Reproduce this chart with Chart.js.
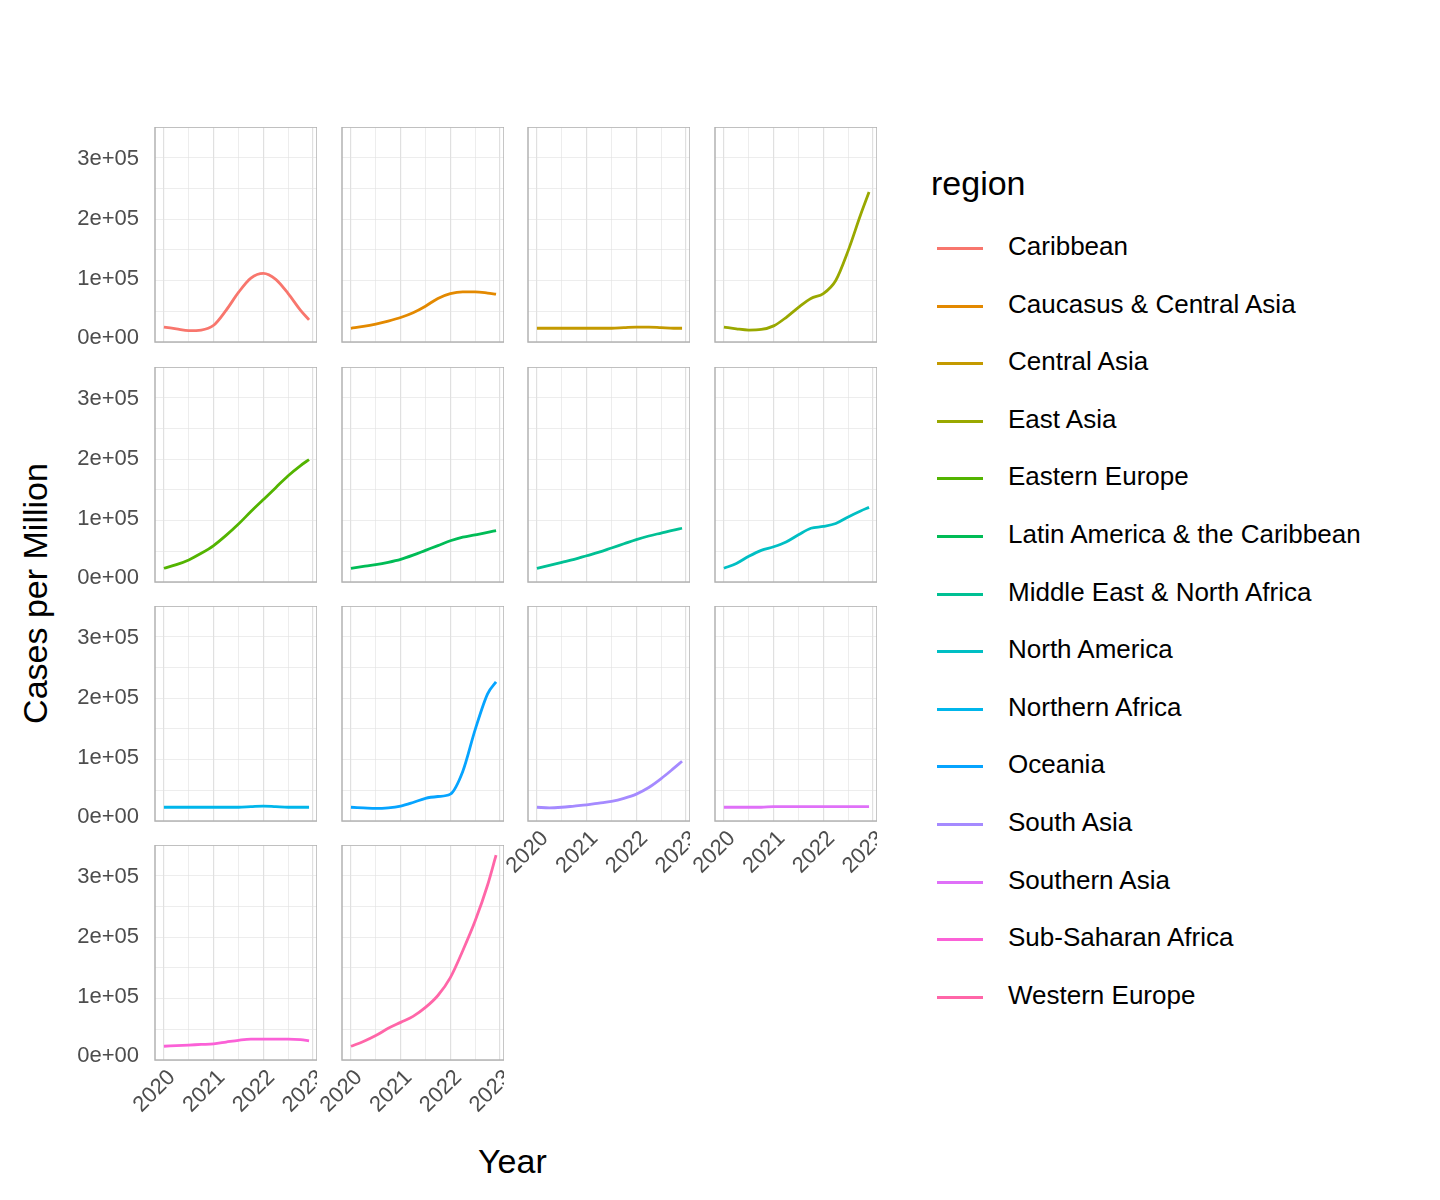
<!DOCTYPE html>
<html>
<head>
<meta charset="utf-8">
<script src="https://cdn.jsdelivr.net/npm/chart.js@4.4.1/dist/chart.umd.min.js"></script>
<style>
  body { margin: 0; background: #fff; font-family: Arial, "Liberation Sans", sans-serif; }
  #wrap { position: relative; width: 1440px; height: 1200px; }
  canvas { position: absolute; }
  .txt { position: absolute; color: #000; white-space: nowrap; }
  .leg { position: absolute; font-size: 26px; color: #000; white-space: nowrap; }
  .leg span { position: absolute; left: 6px; top: 16px; width: 46px; height: 3px; }
  .leg b { font-weight: normal; position: absolute; left: 77px; top: 0; white-space: nowrap; }
</style>
</head>
<body>
<div id="wrap">
  <div class="txt" style="left:478px;top:1142px;font-size:34px;">Year</div>
  <div class="txt" style="left:-100px;top:574px;width:270px;text-align:center;font-size:34px;transform:rotate(-90deg);">Cases per Million</div>
  <div class="txt" style="left:931px;top:164px;font-size:34px;">region</div>
</div>
<script>
// x positions (years) of the estimated points
const years = [2020, 2020.25, 2020.5, 2020.75, 2021, 2021.25, 2021.5, 2021.75, 2022, 2022.25, 2022.5, 2022.75, 2022.92];

const regions = ["Caribbean", "Caucasus & Central Asia", "Central Asia", "East Asia", "Eastern Europe",
  "Latin America & the Caribbean", "Middle East & North Africa", "North America", "Northern Africa",
  "Oceania", "South Asia", "Southern Asia", "Sub-Saharan Africa", "Western Europe"];

const colors = ["#F8766D", "#E38900", "#C49A00", "#99A800", "#53B400", "#00BC56", "#00C094",
  "#00BFC4", "#00B6EB", "#06A4FF", "#A58AFF", "#DF70F8", "#FB61D7", "#FF66A8"];

// cases per million, in thousands
const caribbean   = [2, -1, -4, -3, 5, 30, 60, 84, 92, 82, 58, 30, 14];
const caucasus    = [0, 3, 7, 12, 18, 26, 37, 50, 58, 61, 61, 59, 57];
const centralAsia = [0, 0, 0, 0, 0, 0, 0, 1, 2, 2, 1, 0, 0];
const eastAsia    = [2, -1, -3, -2, 4, 18, 35, 50, 58, 80, 130, 190, 228];
const easternEur  = [0, 6, 14, 25, 38, 55, 74, 95, 115, 135, 155, 172, 182];
const latinAm     = [0, 3, 6, 10, 15, 22, 30, 38, 46, 52, 56, 60, 63];
const mena        = [0, 5, 10, 15, 21, 27, 34, 41, 48, 54, 59, 64, 67];
const northAm     = [0, 8, 20, 30, 36, 44, 56, 67, 70, 75, 86, 96, 102];
const northAfr    = [0, 0, 0, 0, 0, 0, 0, 1, 2, 1, 0, 0, 0];
const oceania     = [0, -1, -2, -1, 2, 8, 15, 18, 22, 60, 130, 190, 210];
const southAsia   = [0, -1, 0, 2, 4, 7, 10, 15, 22, 33, 48, 65, 77];
const southernAs  = [0, 0, 0, 0, 1, 1, 1, 1, 1, 1, 1, 1, 1];
const subSaharan  = [0, 1, 2, 3, 4, 7, 10, 12, 12, 12, 12, 11, 9];
const westernEur  = [0, 8, 18, 30, 40, 50, 65, 85, 115, 160, 210, 270, 320];

const series = [caribbean, caucasus, centralAsia, eastAsia, easternEur, latinAm, mena,
  northAm, northAfr, oceania, southAsia, southernAs, subSaharan, westernEur];

const yTicks = [0, 100000, 200000, 300000];
const yTickLabels = ["0e+00", "1e+05", "2e+05", "3e+05"];
const xTicks = [2020, 2021, 2022, 2023];

const colLeft = [155, 342, 528, 715];
const rowTop = [127, 367, 606, 845];
const panelW = 162, panelH = 215;
const padL = 110, padB = 90;

const wrap = document.getElementById('wrap');

// panel border + facet tick labels drawn from the chart's own scales
const panelPlugin = {
  id: 'panelDeco',
  afterDraw(chart, args, opts) {
    const a = chart.chartArea, c = chart.ctx;
    c.save();
    c.strokeStyle = '#b3b3b3';
    c.lineWidth = 1.5;
    c.strokeRect(a.left, a.top, a.right - a.left, a.bottom - a.top);
    c.fillStyle = '#4d4d4d';
    c.font = '22px Arial, "Liberation Sans", sans-serif';
    if (opts.showY) {
      c.textAlign = 'right';
      c.textBaseline = 'middle';
      yTicks.forEach((v, k) => {
        c.fillText(yTickLabels[k], a.left - 16, chart.scales.y.getPixelForValue(v) + 10);
      });
    }
    if (opts.showX) {
      xTicks.forEach(v => {
        const px = chart.scales.x.getPixelForValue(v);
        c.save();
        c.translate(px + 8, a.bottom + 14);
        c.rotate(-Math.PI / 4);
        c.textAlign = 'right';
        c.textBaseline = 'middle';
        c.fillText(String(v), 0, 0);
        c.restore();
      });
    }
    c.restore();
  }
};

series.forEach((vals, i) => {
  const col = i % 4, row = Math.floor(i / 4);
  const cv = document.createElement('canvas');
  cv.width = panelW + padL;
  cv.height = panelH + padB;
  cv.style.width = cv.width + 'px';
  cv.style.height = cv.height + 'px';
  cv.style.left = (colLeft[col] - padL) + 'px';
  cv.style.top = rowTop[row] + 'px';
  wrap.appendChild(cv);
  new Chart(cv, {
    type: 'line',
    data: {
      datasets: [{
        data: years.map((x, k) => ({x: x, y: vals[k] * 1000})),
        borderColor: colors[i],
        borderWidth: 2.8,
        pointRadius: 0,
        tension: 0.4,
        cubicInterpolationMode: 'monotone'
      }]
    },
    options: {
      responsive: false,
      animation: false,
      layout: { padding: { left: padL, bottom: padB, top: 0, right: 0 }, autoPadding: false },
      plugins: {
        legend: { display: false },
        tooltip: { enabled: false },
        panelDeco: { showX: i >= 10, showY: col === 0 }
      },
      scales: {
        x: {
          type: 'linear',
          min: 2019.82, max: 2023.08,
          border: { display: false },
          grid: {
            drawTicks: false,
            color: '#e0e0e0',
            lineWidth: ctx => (ctx.tick && Number.isInteger(ctx.tick.value)) ? 1.2 : 0.6
          },
          ticks: { display: false, stepSize: 0.5, includeBounds: false, autoSkip: false }
        },
        y: {
          min: -23000, max: 337000,
          border: { display: false },
          grid: {
            drawTicks: false,
            color: '#e0e0e0',
            lineWidth: ctx => (ctx.tick && ctx.tick.value % 100000 === 0) ? 1.2 : 0.6
          },
          ticks: { display: false, stepSize: 50000, includeBounds: false, autoSkip: false }
        }
      }
    },
    plugins: [panelPlugin]
  });

  // legend entry
  const lg = document.createElement('div');
  lg.className = 'leg';
  lg.style.left = '931px';
  lg.style.top = (231 + i * 57.6) + 'px';
  lg.innerHTML = '<span style="background:' + colors[i] + '"></span><b>' + regions[i] + '</b>';
  wrap.appendChild(lg);
});
</script>
</body>
</html>
